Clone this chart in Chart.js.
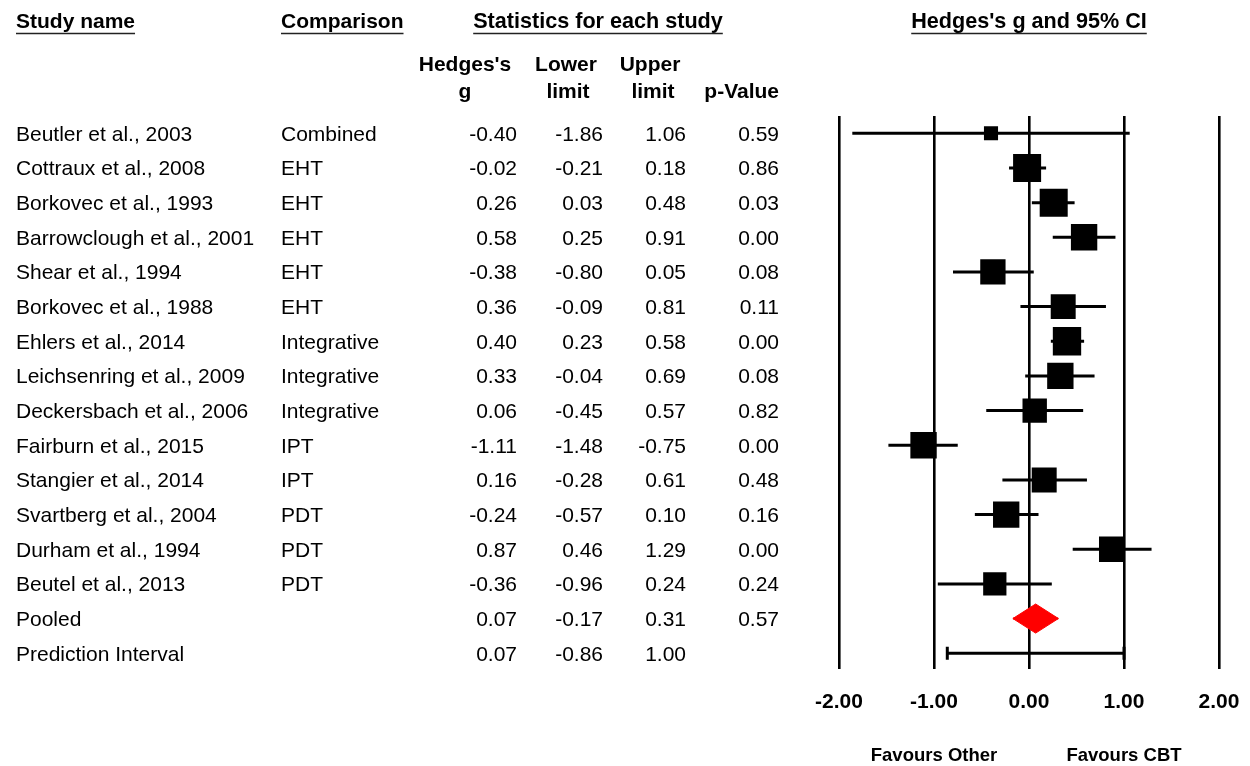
<!DOCTYPE html>
<html>
<head>
<meta charset="utf-8">
<title>Hedges's g forest plot</title>
<script src="https://cdn.jsdelivr.net/npm/chart.js@4.4.1/dist/chart.umd.min.js"></script>
<style>
  html, body { margin: 0; padding: 0; background: #fff; }
  #forest { display: block; }
</style>
</head>
<body>
<canvas id="forest" width="1250" height="766"></canvas>
<script>
const studies = [
  'Beutler et al., 2003',
  'Cottraux et al., 2008',
  'Borkovec et al., 1993',
  'Barrowclough et al., 2001',
  'Shear et al., 1994',
  'Borkovec et al., 1988',
  'Ehlers et al., 2014',
  'Leichsenring et al., 2009',
  'Deckersbach et al., 2006',
  'Fairburn et al., 2015',
  'Stangier et al., 2014',
  'Svartberg et al., 2004',
  'Durham et al., 1994',
  'Beutel et al., 2013'
];
const comparisons = ['Combined', 'EHT', 'EHT', 'EHT', 'EHT', 'EHT', 'Integrative', 'Integrative',
  'Integrative', 'IPT', 'IPT', 'PDT', 'PDT', 'PDT'];
const hedgesG   = [-0.40, -0.02, 0.26, 0.58, -0.38, 0.36, 0.40, 0.33, 0.06, -1.11, 0.16, -0.24, 0.87, -0.36];
const lowerLimit = [-1.86, -0.21, 0.03, 0.25, -0.80, -0.09, 0.23, -0.04, -0.45, -1.48, -0.28, -0.57, 0.46, -0.96];
const upperLimit = [1.06, 0.18, 0.48, 0.91, 0.05, 0.81, 0.58, 0.69, 0.57, -0.75, 0.61, 0.10, 1.29, 0.24];
const pValue    = [0.59, 0.86, 0.03, 0.00, 0.08, 0.11, 0.00, 0.08, 0.82, 0.00, 0.48, 0.16, 0.00, 0.24];
// relative weight (%) of each study, sets the size of its box
const weights   = [2.2, 8.7, 8.7, 7.7, 7.1, 6.9, 8.9, 7.7, 6.6, 7.7, 6.9, 7.7, 7.1, 6.0];

// g, lower, upper, p
const pooled = [0.07, -0.17, 0.31, 0.57];
// g, lower, upper
const predictionInterval = [0.07, -0.86, 1.00];

const axisTicks = [-2, -1, 0, 1, 2];

const FONT = '"Liberation Sans", Arial, sans-serif';
const pooledRow = studies.length;
const piRow = studies.length + 1;

// header text with an underline below it
function underlined(ctx, text, x, y, align) {
  ctx.textAlign = align;
  ctx.fillText(text, x, y);
  const w = ctx.measureText(text).width;
  const x0 = align === 'center' ? x - w / 2 : x;
  ctx.beginPath();
  ctx.lineWidth = 1.6;
  ctx.strokeStyle = '#222';
  ctx.moveTo(x0, y + 11.5);
  ctx.lineTo(x0 + w, y + 11.5);
  ctx.stroke();
}

const tableText = {
  id: 'tableText',
  afterDraw(chart) {
    const ctx = chart.ctx;
    const xs = chart.scales.x;
    const ys = chart.scales.y;
    ctx.save();
    ctx.fillStyle = '#000';
    ctx.textBaseline = 'middle';

    ctx.font = 'bold 21px ' + FONT;
    underlined(ctx, 'Study name', 16, 22, 'left');
    underlined(ctx, 'Comparison', 281, 22, 'left');
    ctx.font = 'bold 21.6px ' + FONT;
    underlined(ctx, 'Statistics for each study', 598, 22, 'center');
    underlined(ctx, "Hedges's g and 95% CI", xs.getPixelForValue(0), 22, 'center');

    ctx.font = 'bold 21px ' + FONT;
    ctx.textAlign = 'center';
    ctx.fillText("Hedges's", 465, 65);
    ctx.fillText('g', 465, 92);
    ctx.fillText('Lower', 566, 65);
    ctx.fillText('limit', 568, 92);
    ctx.fillText('Upper', 650, 65);
    ctx.fillText('limit', 653, 92);
    ctx.textAlign = 'right';
    ctx.fillText('p-Value', 779, 92);

    ctx.font = '21px ' + FONT;
    const cols = [517, 603, 686, 779];
    const row = (i, name, comp, vals) => {
      const py = ys.getPixelForValue(i) + 1.5;
      ctx.textAlign = 'left';
      ctx.fillText(name, 16, py);
      if (comp) ctx.fillText(comp, 281, py);
      ctx.textAlign = 'right';
      vals.forEach((v, k) => ctx.fillText(v.toFixed(2), cols[k], py));
    };
    studies.forEach((s, i) => row(i, s, comparisons[i], [hedgesG[i], lowerLimit[i], upperLimit[i], pValue[i]]));
    row(pooledRow, 'Pooled', null, pooled);
    row(piRow, 'Prediction Interval', null, predictionInterval);

    ctx.font = 'bold 18.5px ' + FONT;
    ctx.textAlign = 'center';
    ctx.fillText('Favours Other', xs.getPixelForValue(-1), 756);
    ctx.fillText('Favours CBT', xs.getPixelForValue(1), 756);
    ctx.restore();
  }
};

const ciLines = studies.map((s, i) => ({
  type: 'line',
  data: [{ x: lowerLimit[i], y: i }, { x: upperLimit[i], y: i }],
  borderColor: '#000',
  borderWidth: 3,
  pointRadius: 0,
  fill: false,
  order: 2
}));

const boxes = {
  type: 'scatter',
  data: hedgesG.map((g, i) => ({ x: g, y: i })),
  pointStyle: 'rect',
  pointRadius: weights.map(w => 9.5 * Math.sqrt(w) / Math.SQRT2),
  pointBackgroundColor: '#000',
  pointBorderWidth: 0,
  order: 1
};

// pooled estimate diamond, drawn as two filled halves that overlap a little at the middle
const halfH = 0.42;
const diamondHalf = dir => ({
  type: 'line',
  data: [
    { x: pooled[1], y: pooledRow },
    { x: pooled[0], y: pooledRow + dir * halfH },
    { x: pooled[2], y: pooledRow }
  ],
  borderColor: '#ff0000',
  backgroundColor: '#ff0000',
  borderWidth: 1,
  pointRadius: 0,
  tension: 0,
  fill: { value: pooledRow - dir * 0.03 },
  order: 1
});

const piLine = {
  type: 'line',
  data: [{ x: predictionInterval[1], y: piRow }, { x: predictionInterval[2], y: piRow }],
  borderColor: '#000',
  borderWidth: 3,
  pointStyle: 'line',
  pointRotation: 90,
  pointRadius: 6.5,
  pointBorderWidth: 3,
  pointBorderColor: '#000',
  fill: false,
  order: 1
};

new Chart(document.getElementById('forest'), {
  type: 'scatter',
  data: {
    datasets: [boxes, diamondHalf(-1), diamondHalf(1), piLine, ...ciLines]
  },
  options: {
    responsive: false,
    animation: false,
    events: [],
    layout: { padding: { left: 839, right: 31, top: 116, bottom: 30 } },
    plugins: { legend: { display: false }, tooltip: { enabled: false } },
    scales: {
      x: {
        type: 'linear',
        min: axisTicks[0],
        max: axisTicks[axisTicks.length - 1],
        afterBuildTicks: axis => { axis.ticks = axisTicks.map(v => ({ value: v })); },
        // end labels may overhang the plot; the layout padding already leaves room
        afterFit: axis => { axis.paddingLeft = 0; axis.paddingRight = 0; },
        grid: { color: '#000', lineWidth: 2.6, drawTicks: false },
        border: { display: false },
        ticks: {
          padding: 21,
          color: '#000',
          font: { family: FONT, size: 21, weight: 'bold' },
          callback: v => v.toFixed(2)
        }
      },
      y: {
        type: 'linear',
        min: -0.5,
        max: 15.45,
        reverse: true,
        display: false
      }
    }
  },
  plugins: [tableText]
});
</script>
</body>
</html>
